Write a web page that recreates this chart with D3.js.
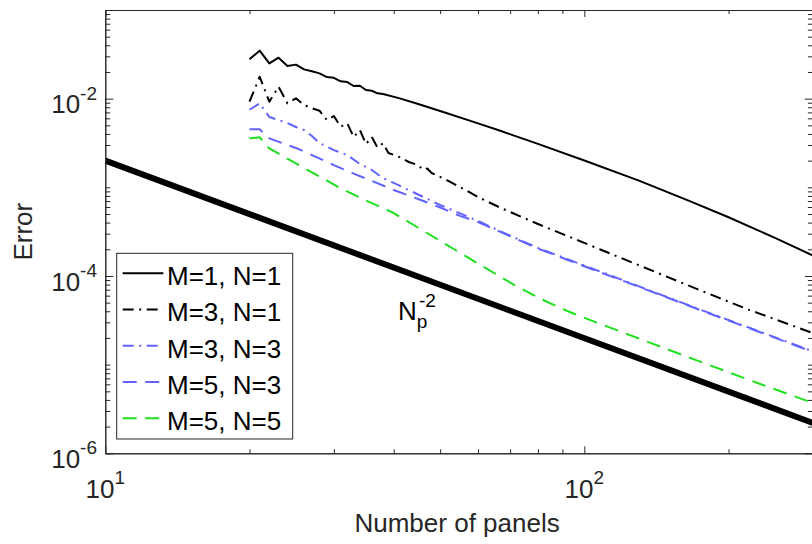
<!DOCTYPE html>
<html>
<head>
<meta charset="utf-8">
<script src="https://cdn.jsdelivr.net/npm/d3@7"></script>
<style>
body { margin: 0; background: #fff; }
text { font-family: "Liberation Sans", Arial, Helvetica, sans-serif; }
</style>
</head>
<body>
<svg id="chart" width="812" height="544"></svg>
<script>
//data (number of panels vs error)

var x_m1n1 = [20,21,22,23,24,25,26,27,28,29,30,31,32,33,34,35,36,37,38,41,45,50,60,67,80,100,130,166,200,250,300];
var err_m1n1 = [0.0278,0.0348,0.0250,0.0290,0.0234,0.0242,0.0214,0.0204,0.0193,0.0175,0.0172,0.0157,0.0154,0.0139,0.0140,0.01252,0.01229,0.01149,0.01128,0.01014,0.0087,0.00726,0.00526,0.00431,0.00309,0.00201,0.00119,0.000699,0.00046,0.000269,0.00017];

var x_m3n1 = [20,21,22,23,24,25,26,27,28,29,30,31,32,33,34,35,36,37,38,39,41,43,45,46,47,48,50,52,56,60,67,80,108,130,174,220,300];
var err_m3n1 = [0.00924,0.01769,0.00924,0.01364,0.00886,0.01009,0.00848,0.00778,0.00731,0.00574,0.00637,0.00483,0.00527,0.00369,0.00443,0.00308,0.00369,0.00281,0.00314,0.00244,0.00221,0.00193,0.00178,0.00158,0.00163,0.00145,0.00131,0.00118,0.000957,0.000777,0.000584,0.000386,0.000199,0.000132,0.0000694,0.0000418,0.0000227];

var x_m3n3 = [20,21,22,23,24,25,26,27,28,30,32,34,36,38,40,43,50,60,67,80,108,130,174,220,300];
var err_m3n3 = [0.0075,0.00886,0.00621,0.00574,0.00531,0.00479,0.00443,0.00379,0.00316,0.00263,0.00231,0.00183,0.00157,0.00127,0.00112,0.000932,0.000632,0.000417,0.000317,0.000207,0.000112,0.0000764,0.000042,0.0000263,0.0000141];

var x_m5n3 = [20,21,22,24,25,27,30,33,36,40,45,50,55,60,67,80,108,130,174,220,300];
var err_m5n3 = [0.00451,0.00451,0.00357,0.003,0.00278,0.00231,0.00178,0.00143,0.00118,0.000932,0.000738,0.000592,0.000476,0.000405,0.000312,0.000204,0.00011,0.0000755,0.0000415,0.000026,0.0000139];

var x_m5n5 = [20,21,22,25,28,31,35,40,45,50,55,60,70,80,90,100,130,170,220,300];
var err_m5n5 = [0.00357,0.00366,0.00275,0.00186,0.001324,0.000974,0.00071,0.000513,0.00035,0.000249,0.000183,0.000138,0.0000844,0.0000571,0.0000424,0.0000337,0.0000197,0.0000114,0.00000677,0.00000369];

//reference slope line N_p^-2
var x_ref = [10, 300];
var err_ref = [0.002, 0.0000022];

var legend_names = ["M=1, N=1", "M=3, N=1", "M=3, N=3", "M=5, N=3", "M=5, N=5"];

//tick values
var x_major = [10, 100];
var x_major_labels = ["1", "2"];
var x_minor = [20, 30, 40, 50, 60, 70, 80, 90, 200, 300];
var y_major = [1e-6, 1e-4, 1e-2];
var y_major_labels = ["-6", "-4", "-2"];

//bounding box of the axes
var bb = { left: 105.3, right: 812.9, top: 10, bottom: 453.3 };

var axis_color = "#262626";
var blue = "#6262ff", green = "#1fe01f";

var series = [
	{ x: x_m1n1, e: err_m1n1, color: "#000", dash: null },
	{ x: x_m3n1, e: err_m3n1, color: "#000", dash: "11,5.5,2,5.5" },
	{ x: x_m3n3, e: err_m3n3, color: blue, dash: "11,5.5,2,5.5" },
	{ x: x_m5n3, e: err_m5n3, color: blue, dash: "14,8.5" },
	{ x: x_m5n5, e: err_m5n5, color: green, dash: "14,8.5" }
];

var svg = d3.select("#chart");

var x = d3.scaleLog().domain([10, 300]).range([bb.left, bb.right]);
var y = d3.scaleLog().domain([1e-6, 1e-1]).range([bb.bottom, bb.top]);

//minor y ticks: 2..9 in every decade, plus the odd decades
var y_minor = [];
for (var e = -6; e < -1; e++) {
	for (var k = 1; k <= 9; k++) {
		var v = k * Math.pow(10, e);
		if (k == 1 && y_major.indexOf(v) >= 0) continue;
		y_minor.push(v);
	}
}
y_minor.push(1e-1);

svg.append("rect").attr("width", 812).attr("height", 544).attr("fill", "#fff");

svg.append("clipPath").attr("id", "clip")
	.append("rect")
	.attr("x", bb.left).attr("y", bb.top)
	.attr("width", bb.right - bb.left).attr("height", bb.bottom - bb.top);

var plot = svg.append("g").attr("clip-path", "url(#clip)");

var line = d3.line()
	.x(function(d) { return x(d[0]); })
	.y(function(d) { return y(d[1]); });

//reference line
plot.append("path")
	.datum(d3.zip(x_ref, err_ref))
	.attr("d", line)
	.attr("fill", "none")
	.attr("stroke", "#000")
	.attr("stroke-width", 6);

series.forEach(function(s) {
	plot.append("path")
		.datum(d3.zip(s.x, s.e))
		.attr("d", line)
		.attr("fill", "none")
		.attr("stroke", s.color)
		.attr("stroke-width", 2)
		.attr("stroke-linejoin", "round")
		.attr("stroke-dasharray", s.dash);
});

//axes, ticks pointing inwards on all four sides
function styleAxis(g) {
	g.selectAll("path, line").attr("stroke", axis_color).attr("stroke-width", 1);
	g.selectAll("text").remove();
}

svg.append("g").attr("transform", "translate(0," + bb.bottom + ")")
	.call(d3.axisBottom(x).tickValues(x_major).tickSize(-7).tickSizeOuter(0).tickFormat(""))
	.call(styleAxis);
svg.append("g").attr("transform", "translate(0," + bb.bottom + ")")
	.call(d3.axisBottom(x).tickValues(x_minor).tickSize(-4).tickSizeOuter(0).tickFormat(""))
	.call(styleAxis);
svg.append("g").attr("transform", "translate(0," + bb.top + ")")
	.call(d3.axisTop(x).tickValues(x_major).tickSize(-7).tickSizeOuter(0).tickFormat(""))
	.call(styleAxis);
svg.append("g").attr("transform", "translate(0," + bb.top + ")")
	.call(d3.axisTop(x).tickValues(x_minor).tickSize(-4).tickSizeOuter(0).tickFormat(""))
	.call(styleAxis);

svg.append("g").attr("transform", "translate(" + bb.left + ",0)")
	.call(d3.axisLeft(y).tickValues(y_major).tickSize(-8).tickSizeOuter(0).tickFormat(""))
	.call(styleAxis);
svg.append("g").attr("transform", "translate(" + bb.left + ",0)")
	.call(d3.axisLeft(y).tickValues(y_minor).tickSize(-5).tickSizeOuter(0).tickFormat(""))
	.call(styleAxis);
svg.append("g").attr("transform", "translate(" + bb.right + ",0)")
	.call(d3.axisRight(y).tickValues(y_major).tickSize(-8).tickSizeOuter(0).tickFormat(""))
	.call(styleAxis);
svg.append("g").attr("transform", "translate(" + bb.right + ",0)")
	.call(d3.axisRight(y).tickValues(y_minor).tickSize(-5).tickSizeOuter(0).tickFormat(""))
	.call(styleAxis);

//tick labels as 10 with superscript exponent
x_major.forEach(function(v, i) {
	var t = svg.append("text")
		.attr("x", x(v))
		.attr("y", bb.bottom + 45)
		.attr("text-anchor", "middle")
		.attr("fill", axis_color)
		.style("font-size", "26px");
	t.append("tspan").text("10");
	t.append("tspan").attr("dy", -14).style("font-size", "19px").text(x_major_labels[i]);
});

y_major.forEach(function(v, i) {
	var t = svg.append("text")
		.attr("x", 97)
		.attr("y", y(v) + 14.6)
		.attr("text-anchor", "end")
		.attr("fill", axis_color)
		.style("font-size", "26px");
	t.append("tspan").text("10");
	t.append("tspan").attr("dy", -13.5).style("font-size", "19px").text(y_major_labels[i]);
});

//axis titles
svg.append("text")
	.attr("x", (bb.left + bb.right) / 2 - 2)
	.attr("y", 531.5)
	.attr("text-anchor", "middle")
	.attr("fill", axis_color)
	.style("font-size", "26px")
	.text("Number of panels");

svg.append("text")
	.attr("transform", "translate(32," + ((bb.top + bb.bottom) / 2) + ") rotate(-90)")
	.attr("text-anchor", "middle")
	.attr("fill", axis_color)
	.style("font-size", "26px")
	.text("Error");

//N_p^-2 annotation
var ann = svg.append("text")
	.attr("x", 398)
	.attr("y", 319.5)
	.attr("fill", "#000")
	.style("font-size", "26px");
ann.append("tspan").text("N");
ann.append("tspan").attr("dy", 8.5).style("font-size", "19px").text("p");
ann.append("tspan").attr("x", 419).attr("dy", -21).style("font-size", "19px").text("-2");

//legend
var leg = { x: 116.7, y: 253.3, w: 176, h: 185.7, row0: 273.3, step: 36.25 };

svg.append("rect")
	.attr("x", leg.x).attr("y", leg.y)
	.attr("width", leg.w).attr("height", leg.h)
	.attr("fill", "#fff")
	.attr("stroke", axis_color)
	.attr("stroke-width", 1);

legend_names.forEach(function(name, i) {
	var s = series[i];
	var ry = leg.row0 + i * leg.step;
	svg.append("line")
		.attr("x1", 122.7).attr("x2", 163.3)
		.attr("y1", ry).attr("y2", ry)
		.attr("stroke", s.color)
		.attr("stroke-width", 2)
		.attr("stroke-dasharray", s.dash);
	svg.append("text")
		.attr("x", 167)
		.attr("y", ry + 11.7)
		.attr("fill", "#000")
		.style("font-size", "26px")
		.text(name);
});
</script>
</body>
</html>
